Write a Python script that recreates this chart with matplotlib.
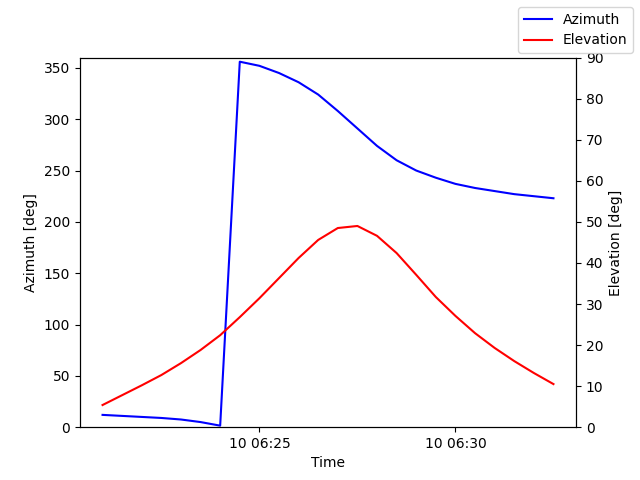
import matplotlib
matplotlib.use("Agg")
import matplotlib.pyplot as plt
import matplotlib.dates as mdates
import numpy as np
import pandas as pd

times = pd.date_range("2024-01-10 06:21:00", periods=24, freq="30s")
azimuth = [12, 11, 10, 9, 7.5, 5, 1.5, 356, 352, 345, 336, 324, 308, 291, 274,
           260, 250, 243, 237, 233, 230, 227, 225, 223]
elevation = [5.4, 7.8, 10.2, 12.7, 15.6, 18.8, 22.4, 26.8, 31.4, 36.3, 41.2, 45.6,
             48.5, 49.0, 46.6, 42.4, 37.1, 31.7, 27.1, 22.9, 19.3, 16.1, 13.2, 10.5]

fig, ax = plt.subplots(figsize=(6.4, 4.8), dpi=100)
ax.plot(times, azimuth, color="blue", label="Azimuth")
ax.set_ylim(0, 360)
ax.set_ylabel("Azimuth [deg]")
ax.set_xlabel("Time")
ax2 = ax.twinx()
ax2.plot(times, elevation, color="red", label="Elevation")
ax2.set_ylim(0, 90)
ax2.set_ylabel("Elevation [deg]")
ax.xaxis.set_major_locator(mdates.MinuteLocator(byminute=[25, 30]))
ax.xaxis.set_major_formatter(mdates.DateFormatter("%d %H:%M"))
fig.legend(loc="upper right")
fig.savefig("out.png")
